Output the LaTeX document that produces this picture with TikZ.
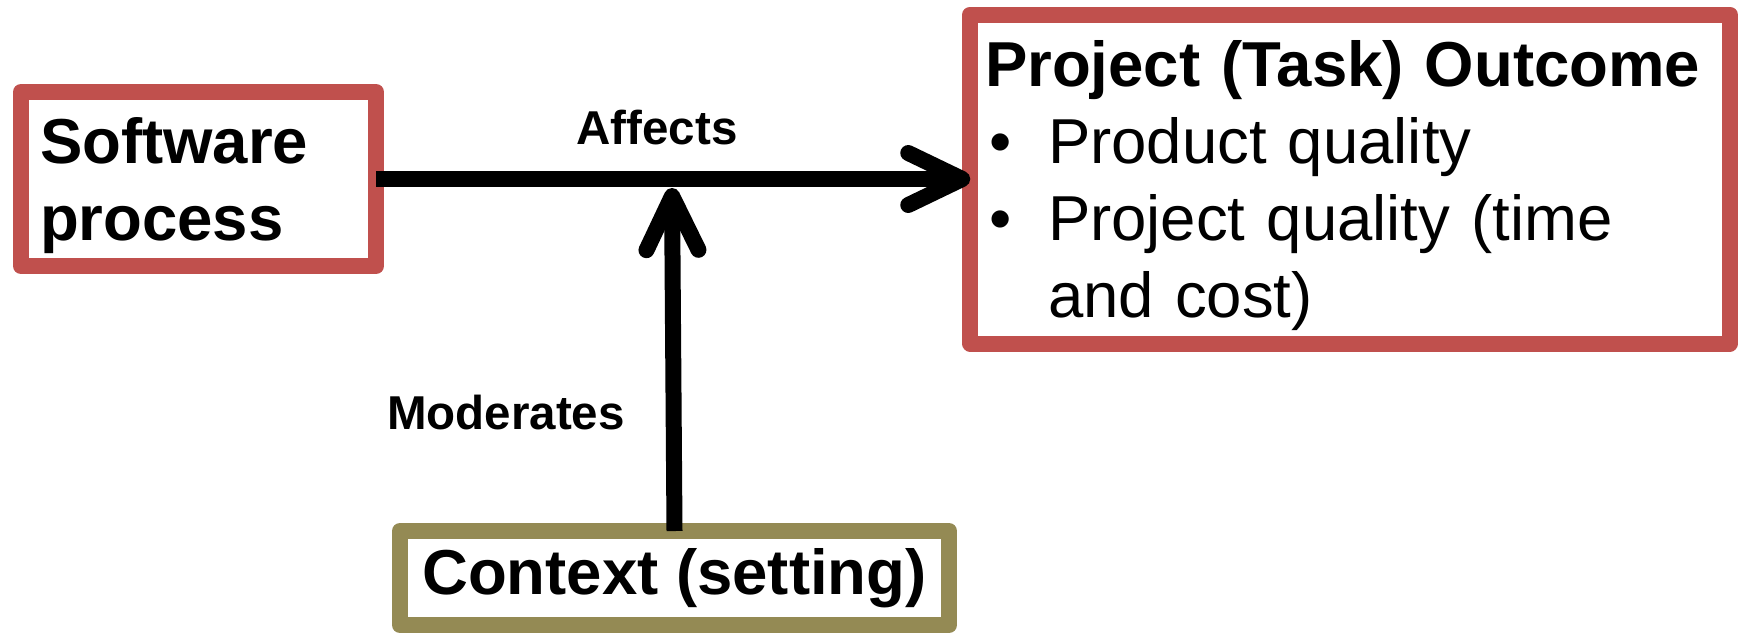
\documentclass[tikz,border=0pt]{standalone}
\usepackage{fontspec}
\setmainfont{Liberation Sans}
\usepackage{tikz}
\usetikzlibrary{arrows.meta}
\definecolor{boxred}{HTML}{C0504D}
\definecolor{boxolive}{HTML}{948A54}
\tikzset{
  box/.style={draw, line width=8pt, line join=round, outer sep=0pt, fill=white,
    font=\fontsize{31.75}{38.5}\selectfont},
  verb/.style={font=\fontsize{23.75}{28}\selectfont\bfseries, anchor=base},
  link/.style={line width=8pt, -{Straight Barb[length=27pt, width=26pt, round]}}
}

\begin{document}
\begin{tikzpicture}[x=0.5pt, y=-0.5pt]
  \useasboundingbox (0,0) rectangle (1740,633);
  \node[box, draw=boxred, align=left, minimum width=177.5pt, minimum height=87pt,
    text width=158.5pt, text height=29.5pt, inner xsep=9.5pt] (SP) at (198.5,179) {\bfseries Software\\process};
  \node[box, draw=boxred, align=left, minimum width=379.75pt, minimum height=164.5pt,
    text width=365pt, text height=29.5pt, inner xsep=7.35pt] (PO) at (1350,179)
    {{\bfseries Project (Task) Outcome}\\
     \makebox[31.5pt][l]{\hspace{2pt}\textbullet}Product quality\\
     \makebox[31.5pt][l]{\hspace{2pt}\textbullet}Project quality (time\\
     \hspace*{31.5pt}and cost)};
  \node[box, draw=boxolive, align=center, minimum width=274.5pt, minimum height=47pt,
    font=\fontsize{31.75}{38.5}\selectfont\bfseries] (CS) at (674.5,578) {Context (setting)};
  \coordinate (M) at (672,188);
  \draw[link] (SP.east) -- (PO.west);
  \draw[link] (CS.north) -- (M);
  \node[verb] (A) at (657,144) {Affects};
  \node[verb] (B) at (506,429) {Moderates};
\end{tikzpicture}
\end{document}
